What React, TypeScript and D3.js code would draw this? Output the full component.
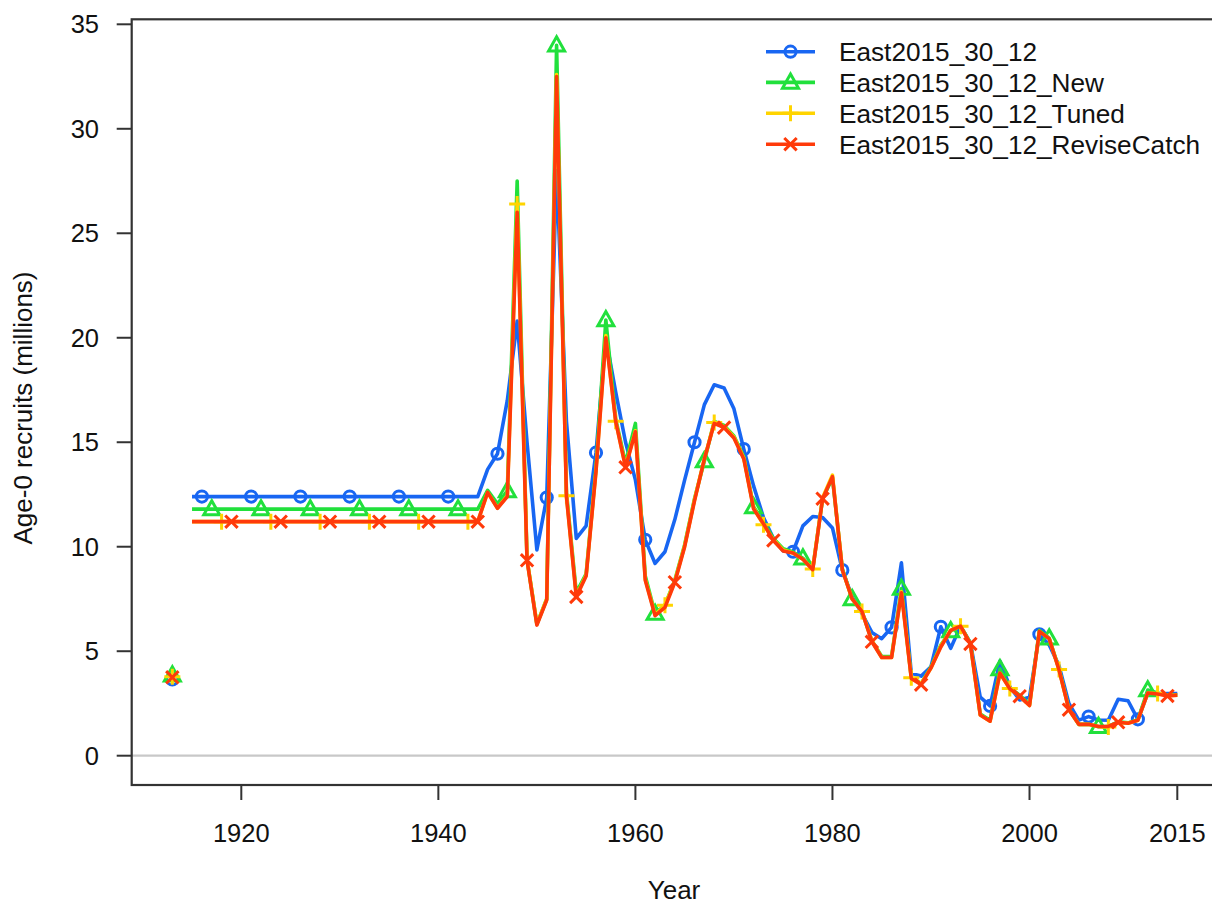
import React from "react";
import * as d3 from "d3";

const years: number[] = d3.range(1915, 2016);
const virginYear = 1913;

const seriesNames = [
  "East2015_30_12",
  "East2015_30_12_New",
  "East2015_30_12_Tuned",
  "East2015_30_12_ReviseCatch",
];
const seriesColors = ["#1866F2", "#21E03C", "#FFD400", "#FF3A0A"];
const seriesShapes = ["circle", "triangle", "plus", "cross"];
const markerStart = [1916, 1917, 1918, 1919];
const virginValues = [3.65, 3.85, 3.78, 3.75];

const blueValues = [
  12.4, 12.4, 12.4, 12.4, 12.4, 12.4, 12.4, 12.4, 12.4, 12.4,
  12.4, 12.4, 12.4, 12.4, 12.4, 12.4, 12.4, 12.4, 12.4, 12.4,
  12.4, 12.4, 12.4, 12.4, 12.4, 12.4, 12.4, 12.4, 12.4, 12.4,
  13.7, 14.45, 17.0, 20.8, 15.0, 9.85, 12.35, 28.0, 16.0, 10.4,
  11.0, 14.5, 20.0, 17.4, 15.0, 13.2, 10.33, 9.2, 9.76, 11.3,
  13.2, 15.0, 16.8, 17.75, 17.6, 16.6, 14.67, 12.9, 11.4, 10.4,
  9.8, 9.76, 11.0, 11.45, 11.4, 10.9, 8.88, 7.6, 6.8, 5.9,
  5.6, 6.14, 9.23, 3.94, 3.81, 4.26, 6.17, 5.14, 6.2, 5.4,
  2.8, 2.38, 4.53, 3.3, 2.67, 2.8, 5.81, 5.3, 4.3, 2.5,
  1.7, 1.87, 1.71, 1.7, 2.7, 2.63, 1.74, 2.98, 2.95, 2.98, 2.98,
];

const greenValues = [
  11.8, 11.8, 11.8, 11.8, 11.8, 11.8, 11.8, 11.8, 11.8, 11.8,
  11.8, 11.8, 11.8, 11.8, 11.8, 11.8, 11.8, 11.8, 11.8, 11.8,
  11.8, 11.8, 11.8, 11.8, 11.8, 11.8, 11.8, 11.8, 11.8, 11.8,
  12.7, 12.05, 12.67, 27.5, 9.4, 6.3, 7.5, 34.0, 12.6, 7.8,
  8.7, 13.8, 20.85, 16.1, 14.0, 15.9, 8.6, 6.8, 7.2, 8.4,
  10.1, 12.3, 14.1, 16.0, 15.8, 15.3, 14.3, 11.9, 11.2, 10.4,
  9.9, 9.75, 9.45, 8.95, 12.3, 13.3, 8.95, 7.5, 6.9, 5.5,
  4.75, 4.75, 8.0, 3.75, 3.45, 4.25, 5.3, 5.97, 6.2, 5.4,
  2.0, 1.7, 4.15, 3.25, 2.9, 2.45, 6.0, 5.62, 4.15, 2.25,
  1.5, 1.5, 1.39, 1.4, 1.62, 1.57, 1.72, 3.14, 3.0, 2.9, 2.92,
];

const yellowValues = [
  11.2, 11.2, 11.2, 11.2, 11.2, 11.2, 11.2, 11.2, 11.2, 11.2,
  11.2, 11.2, 11.2, 11.2, 11.2, 11.2, 11.2, 11.2, 11.2, 11.2,
  11.2, 11.2, 11.2, 11.2, 11.2, 11.2, 11.2, 11.2, 11.2, 11.2,
  12.6, 11.85, 12.45, 26.4, 9.4, 6.3, 7.5, 32.6, 12.44, 7.65,
  8.65, 13.65, 20.1, 16.0, 13.85, 15.55, 8.45, 6.75, 7.2, 8.35,
  10.05, 12.25, 14.2, 15.95, 15.75, 15.25, 14.25, 11.85, 11.05, 10.35,
  9.85, 9.7, 9.4, 8.93, 12.35, 13.43, 8.9, 7.5, 6.9, 5.5,
  4.7, 4.7, 7.85, 3.73, 3.45, 4.2, 5.25, 6.0, 6.2, 5.35,
  1.95, 1.65, 3.95, 3.22, 2.85, 2.4, 5.95, 5.6, 4.12, 2.2,
  1.5, 1.5, 1.4, 1.37, 1.6, 1.55, 1.7, 3.0, 2.98, 2.88, 2.9,
];

const redValues = [
  11.2, 11.2, 11.2, 11.2, 11.2, 11.2, 11.2, 11.2, 11.2, 11.2,
  11.2, 11.2, 11.2, 11.2, 11.2, 11.2, 11.2, 11.2, 11.2, 11.2,
  11.2, 11.2, 11.2, 11.2, 11.2, 11.2, 11.2, 11.2, 11.2, 11.2,
  12.6, 11.84, 12.4, 26.0, 9.35, 6.25, 7.45, 32.5, 12.4, 7.6,
  8.6, 13.6, 20.0, 16.0, 13.8, 15.5, 8.4, 6.7, 7.1, 8.3,
  10.0, 12.2, 14.2, 15.9, 15.7, 15.2, 14.2, 11.8, 11.1, 10.3,
  9.8, 9.7, 9.4, 8.9, 12.3, 13.35, 8.9, 7.5, 6.9, 5.45,
  4.7, 4.7, 7.8, 3.7, 3.4, 4.2, 5.2, 6.0, 6.2, 5.35,
  1.95, 1.65, 3.95, 3.2, 2.85, 2.4, 5.95, 5.6, 4.1, 2.2,
  1.5, 1.5, 1.4, 1.4, 1.6, 1.55, 1.7, 3.0, 2.95, 2.86, 2.9,
];

const allValues = [blueValues, greenValues, yellowValues, redValues];
const xTicks = [1920, 1940, 1960, 1980, 2000, 2015];
const yTicks = [0, 5, 10, 15, 20, 25, 30, 35];

const W = 1212;
const H = 906;
const FONT = "'Liberation Sans', Arial, Helvetica, sans-serif";

function Marker({ shape, cx, cy, color }: { shape: string; cx: number; cy: number; color: string }) {
  const sw = 3;
  if (shape === "circle") {
    return <circle cx={cx} cy={cy} r={5.6} fill="none" stroke={color} strokeWidth={sw} />;
  }
  if (shape === "triangle") {
    const s = 8;
    const pts = `${cx},${cy - s * 1.05} ${cx + s},${cy + s * 0.72} ${cx - s},${cy + s * 0.72}`;
    return <polygon points={pts} fill="none" stroke={color} strokeWidth={sw} strokeLinejoin="miter" />;
  }
  if (shape === "plus") {
    const s = 8;
    return (
      <path d={`M${cx - s},${cy}H${cx + s}M${cx},${cy - s}V${cy + s}`} stroke={color} strokeWidth={sw} fill="none" />
    );
  }
  const s = 6.2;
  return (
    <path
      d={`M${cx - s},${cy - s}L${cx + s},${cy + s}M${cx - s},${cy + s}L${cx + s},${cy - s}`}
      stroke={color}
      strokeWidth={sw}
      fill="none"
    />
  );
}

export default function App() {
  const left = 131.7;
  const right = 1217;
  const top = 19.3;
  const bottom = 785;

  const x = d3.scaleLinear().domain([1920, 2015]).range([241.3, 1177.3]);
  const y = d3.scaleLinear().domain([0, 35]).range([755.7, 24.3]);

  const line = d3
    .line<number>()
    .x((_, i) => x(years[i]))
    .y((d) => y(d));

  const legendY = [51.7, 82.4, 113.3, 144.2];

  return (
    <svg
      width={W}
      height={H}
      viewBox={`0 0 ${W} ${H}`}
      style={{ position: "absolute", left: 0, top: 0, background: "#fff" }}
      fontFamily={FONT}
    >
      <rect x={0} y={0} width={W} height={H} fill="#fff" />
      {/* zero line */}
      <line x1={left} x2={right} y1={y(0)} y2={y(0)} stroke="#c8c8c8" strokeWidth={2.2} />

      {/* series */}
      {allValues.map((vals, si) => (
        <g key={si}>
          <path d={line(vals) || ""} fill="none" stroke={seriesColors[si]} strokeWidth={3.6} strokeLinejoin="round" />
          {years.map((yr, i) =>
            yr >= markerStart[si] && (yr - markerStart[si]) % 5 === 0 ? (
              <Marker key={yr} shape={seriesShapes[si]} cx={x(yr)} cy={y(vals[i])} color={seriesColors[si]} />
            ) : null
          )}
        </g>
      ))}
      {/* virgin recruitment points */}
      {virginValues.map((v, si) => (
        <Marker key={"v" + si} shape={seriesShapes[si]} cx={x(virginYear)} cy={y(v)} color={seriesColors[si]} />
      ))}

      {/* box */}
      <rect x={left} y={top} width={right - left} height={bottom - top} fill="none" stroke="#333" strokeWidth={2.2} />

      {/* x axis */}
      {xTicks.map((t) => (
        <g key={t}>
          <line x1={x(t)} x2={x(t)} y1={bottom} y2={bottom + 15} stroke="#333" strokeWidth={2} />
          <text x={x(t)} y={842} textAnchor="middle" fontSize={25.5} fill="#111">
            {t}
          </text>
        </g>
      ))}
      {/* y axis */}
      {yTicks.map((t) => (
        <g key={t}>
          <line x1={left - 15} x2={left} y1={y(t)} y2={y(t)} stroke="#333" strokeWidth={2} />
          <text x={99} y={y(t)} dy="0.36em" textAnchor="end" fontSize={25.5} fill="#111">
            {t}
          </text>
        </g>
      ))}

      <text x={674} y={899} textAnchor="middle" fontSize={26} fill="#111">
        Year
      </text>
      <text
        transform={`translate(32, 408) rotate(-90)`}
        textAnchor="middle"
        fontSize={26}
        fill="#111"
      >
        Age-0 recruits (millions)
      </text>

      {/* legend */}
      {seriesNames.map((name, i) => (
        <g key={name}>
          <line x1={766} x2={815} y1={legendY[i]} y2={legendY[i]} stroke={seriesColors[i]} strokeWidth={3.6} />
          <Marker shape={seriesShapes[i]} cx={790.5} cy={legendY[i]} color={seriesColors[i]} />
          <text x={839} y={legendY[i]} dy="0.36em" fontSize={26.2} fill="#111">
            {name}
          </text>
        </g>
      ))}
    </svg>
  );
}
